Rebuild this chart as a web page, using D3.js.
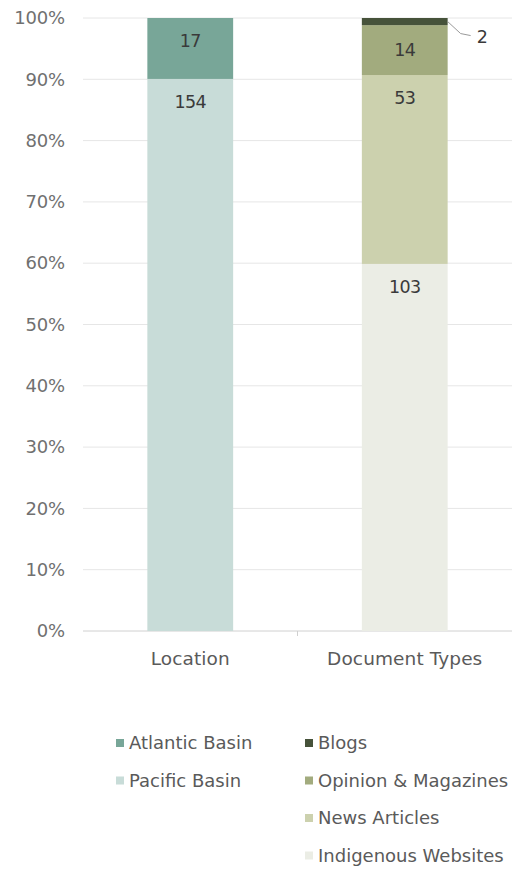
<!DOCTYPE html>
<html>
<head>
<meta charset="utf-8">
<script src="https://cdn.jsdelivr.net/npm/d3@7"></script>
<style>
  body { margin: 0; background: #fff; }
  svg { font-family: "DejaVu Sans", sans-serif; }
</style>
</head>
<body>
<div id="host"><svg></svg></div>
<script>
const WIDTH = 513;
const HEIGHT = 869;

const CATEGORIES = ["Location", "Document Types"];
const SERIES = [
  "Pacific Basin",
  "Atlantic Basin",
  "Indigenous Websites",
  "News Articles",
  "Opinion & Magazines",
  "Blogs",
];
// counts per category, in stacking order (bottom to top)
const LOCATION_VALUES = [154, 17, 0, 0, 0, 0];
const DOCTYPE_VALUES = [0, 0, 103, 53, 14, 2];
const TICKS = [0, 0.1, 0.2, 0.3, 0.4, 0.5, 0.6, 0.7, 0.8, 0.9, 1];

const LEGEND_LEFT = ["Atlantic Basin", "Pacific Basin"];
const LEGEND_RIGHT = ["Blogs", "Opinion & Magazines", "News Articles", "Indigenous Websites"];

const COLORS = {
  "Atlantic Basin": "#78a698",
  "Pacific Basin": "#c8dcd8",
  "Blogs": "#46523a",
  "Opinion & Magazines": "#a2ab7e",
  "News Articles": "#ccd1ae",
  "Indigenous Websites": "#ebede5",
};

const M = { top: 18, right: 1, bottom: 238, left: 83 };
const FS = 17.5;

function draw() {
  const svg = d3.select("#host svg").attr("width", WIDTH).attr("height", HEIGHT);

  const x = d3
    .scaleBand()
    .domain(CATEGORIES)
    .range([M.left, WIDTH - M.right])
    .paddingInner(0.6)
    .paddingOuter(0.3);

  const y = d3.scaleLinear().domain([0, 1]).range([HEIGHT - M.bottom, M.top]);

  // gridlines
  svg
    .append("g")
    .selectAll("line")
    .data(TICKS)
    .join("line")
    .attr("x1", M.left)
    .attr("x2", WIDTH - M.right)
    .attr("y1", (d) => y(d))
    .attr("y2", (d) => y(d))
    .attr("stroke", (d) => (d === 0 ? "#d0d0d0" : "#e6e6e6"))
    .attr("stroke-width", 1);

  // y axis labels
  const yAxis = svg
    .append("g")
    .attr("transform", `translate(${M.left - 15},0)`)
    .call(d3.axisLeft(y).tickValues(TICKS).tickFormat(d3.format(".0%")).tickSize(0));
  yAxis.select(".domain").remove();
  yAxis
    .selectAll("text")
    .attr("fill", "#707070")
    .attr("font-size", 18)
    .attr("letter-spacing", "-0.2")
    .attr("font-family", "'DejaVu Sans', sans-serif");

  // separator tick between categories
  const mid = (x("Location") + x.bandwidth() + x("Document Types")) / 2;
  svg
    .append("line")
    .attr("x1", mid)
    .attr("x2", mid)
    .attr("y1", y(0))
    .attr("y2", y(0) + 5)
    .attr("stroke", "#d0d0d0");

  // stacked data
  const rows = CATEGORIES.map((c, i) => {
    const vals = i === 0 ? LOCATION_VALUES : DOCTYPE_VALUES;
    const total = d3.sum(vals);
    const row = { category: c };
    SERIES.forEach((s, j) => (row[s] = vals[j] / total));
    row.counts = vals;
    return row;
  });

  const stacked = d3.stack().keys(SERIES)(rows);

  const segs = [];
  stacked.forEach((layer, j) => {
    layer.forEach((d) => {
      if (d[1] - d[0] > 0) {
        segs.push({
          key: layer.key,
          category: d.data.category,
          y0: d[0],
          y1: d[1],
          count: d.data.counts[j],
        });
      }
    });
  });

  svg
    .append("g")
    .selectAll("rect")
    .data(segs)
    .join("rect")
    .attr("x", (d) => x(d.category))
    .attr("width", x.bandwidth())
    .attr("y", (d) => y(d.y1))
    .attr("height", (d) => y(d.y0) - y(d.y1))
    .attr("fill", (d) => COLORS[d.key]);

  // value labels
  const labelled = segs.filter((d) => d.key !== "Blogs");
  svg
    .append("g")
    .selectAll("text")
    .data(labelled)
    .join("text")
    .attr("x", (d) => x(d.category) + x.bandwidth() / 2)
    .attr("y", (d) => {
      const h = y(d.y0) - y(d.y1);
      if (h > 60) return y(d.y1) + 23;
      return (y(d.y0) + y(d.y1)) / 2;
    })
    .attr("dy", "0.35em")
    .attr("text-anchor", "middle")
    .attr("font-size", FS)
    .attr("letter-spacing", "-0.6")
    .attr("fill", "#3a3a3a")
    .text((d) => d.count);

  // leader label for blogs
  const blog = segs.find((d) => d.key === "Blogs");
  const bx = x(blog.category) + x.bandwidth();
  const by = (y(blog.y0) + y(blog.y1)) / 2;
  svg
    .append("polyline")
    .attr("points", `${bx},${by} ${bx + 13},${by + 12} ${bx + 23},${by + 14}`)
    .attr("fill", "none")
    .attr("stroke", "#9a9a9a")
    .attr("stroke-width", 1);
  svg
    .append("text")
    .attr("x", bx + 29)
    .attr("y", by + 15)
    .attr("dy", "0.35em")
    .attr("font-size", FS)
    .attr("fill", "#3a3a3a")
    .text(blog.count);

  // x labels
  svg
    .append("g")
    .selectAll("text")
    .data(CATEGORIES)
    .join("text")
    .attr("x", (d) => x(d) + x.bandwidth() / 2)
    .attr("y", y(0) + 28)
    .attr("dy", "0.35em")
    .attr("text-anchor", "middle")
    .attr("font-size", 18.5)
    .attr("letter-spacing", "0.1")
    .attr("fill", "#5a5a5a")
    .text((d) => d);

  // legend
  function legendColumn(items, lx) {
    const g = svg
      .append("g")
      .selectAll("g")
      .data(items)
      .join("g")
      .attr("transform", (d, i) => `translate(${lx},${743 + i * 37.5})`);
    g.append("rect")
      .attr("x", 0)
      .attr("y", -4)
      .attr("width", 8)
      .attr("height", 8)
      .attr("fill", (d) => COLORS[d]);
    g.append("text")
      .attr("x", 13)
      .attr("dy", "0.35em")
      .attr("font-size", 18)
      .attr("fill", "#5a5a5a")
      .attr("letter-spacing", "0")
      .text((d) => d);
  }
  legendColumn(LEGEND_LEFT, 116);
  legendColumn(LEGEND_RIGHT, 305);
}

draw();
</script>
</body>
</html>
